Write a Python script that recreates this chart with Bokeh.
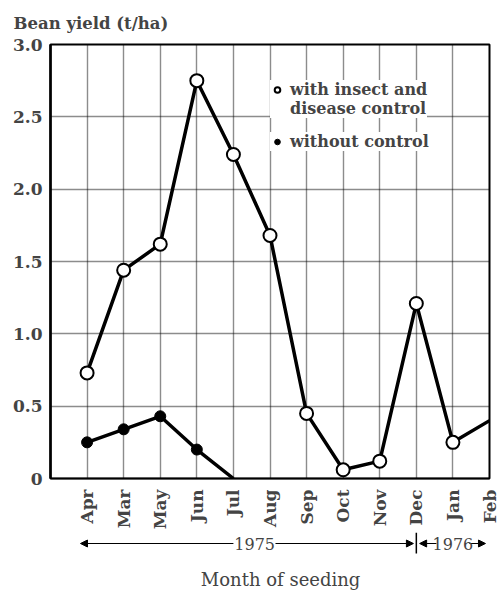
import math
from bokeh.plotting import figure
from bokeh.layouts import column
from bokeh.models import Range1d, FixedTicker, Legend, LegendItem, Arrow, NormalHead, Label
from bokeh.embed import file_html
from bokeh.resources import INLINE

months = ["Apr", "Mar", "May", "Jun", "Jul", "Aug", "Sep", "Oct", "Nov", "Dec", "Jan", "Feb"]
with_control = [0.73, 1.44, 1.62, 2.75, 2.24, 1.68, 0.45, 0.06, 0.12, 1.21, 0.25, 0.40]
without_control = [0.25, 0.34, 0.43, 0.20, 0.0]
with_marked = 11      # Feb point runs off the frame without a marker
without_marked = 4    # Jul point reaches zero without a marker
yticks = [0, 0.5, 1.0, 1.5, 2.0, 2.5, 3.0]
ytick_labels = ["0", "0.5", "1.0", "1.5", "2.0", "2.5", "3.0"]
years = ["1975", "1976"]

FONT = "DejaVu Serif"

xs = list(range(len(months)))
xr = Range1d(-1, 11)

p = figure(width=503, height=532, output_backend="svg", toolbar_location=None,
           x_range=xr, y_range=Range1d(0, 3.0),
           min_border_left=50, min_border_right=14, min_border_top=43, min_border_bottom=54)

p.title.text = "Bean yield (t/ha)"
p.title.text_font = FONT
p.title.text_font_size = "16.5px"
p.title.text_font_style = "bold"
p.title.align = "left"
p.title.offset = -37
p.title.standoff = 23

p.background_fill_color = "white"
p.border_fill_color = "white"
p.outline_line_color = "black"
p.outline_line_width = 2

# grids
p.xgrid.ticker = FixedTicker(ticks=xs)
p.ygrid.ticker = FixedTicker(ticks=yticks)
for g in (p.xgrid, p.ygrid):
    g.grid_line_color = "black"
    g.grid_line_width = 1.4
    g.grid_line_dash = "1 1"
    g.grid_line_alpha = 0.9

# axes
p.yaxis.ticker = FixedTicker(ticks=yticks)
p.yaxis.major_label_overrides = {t: l for t, l in zip(yticks, ytick_labels)}
p.yaxis.axis_line_width = 2.5
p.yaxis.major_tick_line_color = None
p.yaxis.minor_tick_line_color = None
p.yaxis.major_label_text_font = FONT
p.yaxis.major_label_text_font_style = "bold"
p.yaxis.major_label_text_font_size = "17px"
p.yaxis.major_label_standoff = 2

p.xaxis.ticker = FixedTicker(ticks=xs)
p.xaxis.major_label_overrides = {i: m for i, m in enumerate(months)}
p.xaxis.major_label_orientation = math.pi / 2
p.xaxis.axis_line_width = 1.5
p.xaxis.major_tick_line_color = None
p.xaxis.minor_tick_line_color = None
p.xaxis.major_label_text_font = FONT
p.xaxis.major_label_text_font_style = "bold"
p.xaxis.major_label_text_font_size = "17px"
p.xaxis.major_label_standoff = 5

# data lines
p.line(xs, with_control, line_color="black", line_width=3.5)
p.line(xs[:len(without_control)], without_control, line_color="black", line_width=3.5)
r_open = p.scatter(xs[:with_marked], with_control[:with_marked], size=13, marker="circle",
                   fill_color="white", line_color="black", line_width=2)
r_fill = p.scatter(xs[:without_marked], without_control[:without_marked], size=11, marker="circle",
                   fill_color="black", line_color="black", line_width=1)
# invisible renderer used only for the continuation line of the first legend entry
r_blank = p.scatter(x=[], y=[], size=1, fill_alpha=0, line_alpha=0)


def style_legend(lg, pad):
    lg.label_text_font = FONT
    lg.label_text_font_style = "bold"
    lg.label_text_font_size = "16px"
    lg.label_height = 19
    lg.glyph_height = 19
    lg.background_fill_color = "white"
    lg.background_fill_alpha = 1
    lg.border_line_color = None
    lg.glyph_width = 14
    lg.label_standoff = 6
    lg.spacing = 0
    lg.padding = pad
    lg.margin = 0


legend_a = Legend(items=[LegendItem(label="with insect and", renderers=[r_open]),
                         LegendItem(label="disease control", renderers=[r_blank])],
                  location=(220, 360), orientation="vertical")
style_legend(legend_a, 6)
legend_b = Legend(items=[LegendItem(label="without control", renderers=[r_fill])],
                  location=(220, 327), orientation="vertical")
style_legend(legend_b, 8)
p.add_layout(legend_b)
p.add_layout(legend_a)

# strip below with the year spans and the axis title
p2 = figure(width=503, height=60, output_backend="svg", toolbar_location=None,
            x_range=xr, y_range=Range1d(0, 60),
            min_border_left=50, min_border_right=14, min_border_top=0, min_border_bottom=0,
            x_axis_location=None, y_axis_location=None)
p2.grid.visible = False
p2.outline_line_color = None
p2.background_fill_color = "white"
p2.border_fill_color = "white"

y_arrow = 49
dec = months.index("Dec")
head = dict(size=7, fill_color="black", line_color="black")
p2.add_layout(Arrow(x_start=4.0, y_start=y_arrow, x_end=-0.18, y_end=y_arrow,
                    end=NormalHead(**head), line_width=1.2))
p2.add_layout(Arrow(x_start=5.15, y_start=y_arrow, x_end=dec - 0.08, y_end=y_arrow,
                    end=NormalHead(**head), line_width=1.2))
p2.add_layout(Arrow(x_start=9.55, y_start=y_arrow, x_end=dec + 0.09, y_end=y_arrow,
                    end=NormalHead(**head), line_width=1.2))
p2.add_layout(Arrow(x_start=10.45, y_start=y_arrow, x_end=10.89, y_end=y_arrow,
                    end=NormalHead(**head), line_width=1.2))
p2.add_layout(Arrow(x_start=dec, y_start=60, x_end=dec, y_end=39, end=None, line_width=1.5))
p2.add_layout(Label(x=4.58, y=y_arrow, text=years[0], text_font=FONT, text_font_size="16px",
                    text_align="center", text_baseline="middle"))
p2.add_layout(Label(x=10.0, y=y_arrow, text=years[1], text_font=FONT, text_font_size="16px",
                    text_align="center", text_baseline="middle"))
p2.add_layout(Label(x=5.29, y=13, text="Month of seeding", text_font=FONT, text_font_size="18px",
                    text_align="center", text_baseline="middle"))

layout = column(p, p2, spacing=0)
open("out.html", "w").write(file_html(layout, INLINE))
